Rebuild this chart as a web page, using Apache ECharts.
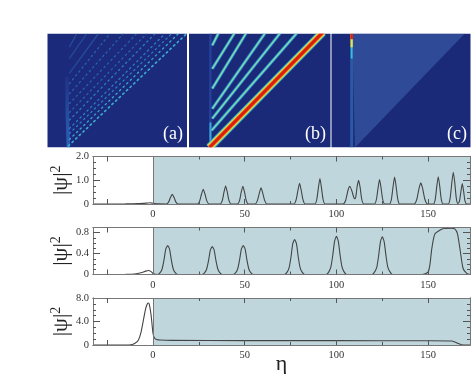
<!DOCTYPE html>
<html><head><meta charset="utf-8">
<style>html,body{margin:0;padding:0;background:#fff}#c{width:472px;height:374px;filter:blur(0.35px)}</style>
<script src="https://cdn.jsdelivr.net/npm/echarts@6/dist/echarts.min.js"></script>
</head><body><div id="c"></div>
<script>
// ---- spatial range shared by all panels
const etaMin = -32.7, etaMax = 172.8;

// ---- line panels: eta positions and |psi|^2 values
const eta1 = [-32.7,-15,-8,-3,-1.5,0,3,7.3,8.5,9.5,10.5,11.5,12.5,13.7,24.2,25.4,26.4,27.4,28.4,29.4,30.6,36.6,37.8,38.7,39.6,40.5,41.4,42.6,46,47.2,48.1,49,49.9,50.8,52,55.7,56.9,57.9,58.9,59.9,60.9,62.1,76.9,78,79,79.9,80.8,81.8,82.9,88.2,89.3,90.2,91,91.8,92.7,93.8,103.5,105,106.3,107.3,108.4,109.5,110,110.6,111.3,112.1,112.9,113.8,114.9,120.7,121.8,122.7,123.5,124.3,125.2,126.3,129,130,130.9,131.7,132.5,133.4,134.4,142.4,143.8,145,146,147,148.2,149.6,152.9,153.9,154.7,155.5,156.3,157.1,158.1,161,162,162.9,163.7,164.5,165.3,166.2,167,167.9,168.6,169.3,170,171,172.8];
const psi1 = [0,.005,.015,.04,.05,.03,.005,0,.08,.27,.41,.27,.08,0,0,.12,.4,.62,.4,.12,0,0,.15,.5,.76,.5,.15,0,0,.15,.5,.75,.5,.15,0,0,.14,.44,.68,.44,.14,0,0,.17,.57,.87,.57,.17,0,0,.2,.7,1.07,.7,.2,0,0,.15,.58,.75,.55,.27,.22,.32,.75,1,.7,.2,0,0,.2,.68,1.03,.68,.2,0,0,.22,.75,1.14,.75,.22,0,0,.2,.65,.89,.65,.2,0,0,.22,.75,1.15,.75,.22,0,0,.26,.9,1.34,.9,.26,.02,.1,.55,.86,.55,.15,0,0];
const eta2 = [-32.7,-15,-10,-6,-4,-2.5,-1,0,2.5,4,5,6,7,8,9,10,11,12,13.5,26.8,28.3,29.3,30.3,31.3,32.3,33.3,34.3,35.3,36.3,37.8,43.7,45.2,46.2,47.2,48.2,49.2,50.2,51.2,52.2,53.2,54.7,71.7,73.2,74.2,75.2,76.2,77.2,78.2,79.2,80.2,81.2,82.7,94.5,96,97,98,99,100,101,102,103,104,105.5,119.5,121,122,123,124,125,126,127,128,129,130.5,145,148,150,151,152,153.7,158,162.8,164.5,166,167.5,169,171,172.8];
const psi2 = [0,.002,.01,.04,.065,.077,.055,.02,0,.04,.11,.28,.49,.555,.49,.28,.11,.04,0,0,.04,.11,.27,.47,.536,.47,.27,.11,.04,0,0,.04,.11,.28,.49,.555,.49,.28,.11,.04,0,0,.05,.13,.33,.59,.67,.59,.33,.13,.05,0,0,.06,.15,.37,.64,.73,.64,.37,.15,.06,0,0,.06,.14,.36,.63,.72,.63,.36,.14,.06,0,0,.01,.05,.2,.5,.78,.875,.885,.875,.78,.45,.12,.02,0,0];
const eta3 = [-32.7,-15,-12,-10,-8,-6.5,-5,-4,-3,-2.5,-2,-1,0,.8,2,4,10,50,100,150,163,166,168,172.8];
const psi3 = [0,0,.05,.25,.8,2.2,4.6,6.2,7.05,7.14,6.9,5,2,1.2,.95,.85,.78,.75,.74,.72,.68,.3,.05,0];

// ---- tick values
const xLabelTicks = [0,50,100,150];
const xMajorTicks = [-25,50,100,150];
const xMinorTicks = [25,75,125];
const yMax = [2, 0.9, 8];
const yLabels = [[0,1,2],[0,.4,.8],[0,4,8]];
const yMajor = [[1],[.4,.8],[4]];
const yMinor = [[.25,.5,.75,1.25,1.5,1.75],[.1,.2,.3,.5,.6,.7],[1,2,3,5,6,7]];
const yFmt = v=>v===0?'0':v.toFixed(1);

// ---- density panels: trajectories [eta0, t0, eta1, t1]
const raysA = [[-.5,88,10.5,100],[-.5,78,25.2,100],[-.5,65,42.4,100],[-.5,56,59.6,100],[-.5,47,79.2,100],[-.5,38.5,98.9,100],[-.5,30.7,113.6,100],[-.5,24,126,100],[-.5,16.6,140.6,100],[-.5,12.3,150.4,100],[-.5,7,160.3,100],[-1.8,1.5,172.5,100]];
const raysB = [[1.1,89.6,9.85,100],[1.1,69,33.1,100],[1.1,51.7,50,100],[1.1,34,77.5,100],[1.1,25.4,99.3,100],[.2,15,123.5,100]];
const mainB = [[-3,0],[161.5,101]];
const wakeB = [[-1.5,100],[-1.8,30],[-1.5,8]];
const triC = [[-1.9,100],[2,0],[164.4,100]];
const plumeC = [[[-2.9,0],[-2.9,100]],[[-2.9,78],[-2.9,100]],[[-2.9,88],[-2.9,100]],[[-2.9,95],[-2.9,100]]];
const plumeColors = ['#2b5aa4','#35c0e0','#f0e040','#e02010'];
const plumeWidths = [3,1.8,2.2,2.6];

const grids = [
 {left:47.5,top:33.5,width:139.5,height:114,show:true,backgroundColor:'#1b2a7a',borderWidth:0},
 {left:189,top:33.5,width:141.5,height:114,show:true,backgroundColor:'#1b2a78',borderWidth:0},
 {left:331.5,top:33.5,width:139,height:114,show:true,backgroundColor:'#1b2a78',borderWidth:0},
 {left:93,top:156.5,width:377,height:47.5},
 {left:93,top:227.5,width:377,height:47},
 {left:93,top:298,width:377,height:47}
].map(g=>Object.assign(g,{outerBoundsMode:'none'}));
const frame = {lineStyle:{color:'#777',width:1}};
const xAxes=[], yAxes=[], series=[];
for(let g=0;g<3;g++){
  xAxes.push({gridIndex:g,type:'value',min:etaMin,max:etaMax,show:false});
  yAxes.push({gridIndex:g,type:'value',min:0,max:100,show:false});
}
function lineS(g,data,color,width,extra){
  series.push(Object.assign({type:'line',xAxisIndex:g,yAxisIndex:g,data,symbol:'none',silent:true,animation:false,
    lineStyle:{color,width}},extra||{}));
}
// panel (a)
const fade={type:'linear',x:0,y:0,x2:0,y2:1,colorStops:[{offset:0,color:'#1f3184'},{offset:1,color:'#2c64b8'}]};
lineS(0,[[-4,62],[-3.5,30],[-2,0]],fade,3.5);
raysA.forEach((r,i)=>{
  const d=[[r[0],r[1]],[r[2],r[3]]];
  const col=i>9?'#3aa8d0':(i>6?'#2b7cc8':(i>2?'#2860b2':'#254c9c'));
  lineS(0,d,col,i===11?1.7:1.3,i<3?{}:{lineStyle:{color:col,width:i===11?1.7:1.3,type:[1.5,3.5],cap:'round'}});
});
// panel (b)
lineS(1,wakeB,'#24409a',2.5);
lineS(1,[[-1.6,3],[-1.5,22]],'#3ca8dc',2);
raysB.forEach(r=>{
  const d=[[r[0],r[1]],[r[2],r[3]]];
  lineS(1,d,'#2a70c4',3.2); lineS(1,d,'#45c8d8',2); lineS(1,d,'#bfe06a',.7);
});
[['#2a80cc',8.5],['#50d0b0',7.5],['#f0e040',6],['#f08020',4.5],['#d81e10',3]].forEach(c=>lineS(1,mainB,c[0],c[1]));
// panel (c)
lineS(2,triC,'#2f4b97',0,{areaStyle:{color:'#2f4b97',origin:'end',opacity:1}});
plumeC.forEach((p,i)=>lineS(2,p,plumeColors[i],plumeWidths[i]));

// line panels
const etas=[eta1,eta2,eta3], psis=[psi1,psi2,psi3];
for(let k=0;k<3;k++){
  const g=k+3;
  const base=xAxes.length;
  const mkX=(pos,vals,len,extra)=>Object.assign({gridIndex:g,type:'value',position:pos,min:etaMin,max:etaMax,z:10,
    axisLine:Object.assign({show:true,onZero:false},frame),
    splitLine:{show:false},
    axisTick:{show:true,inside:true,length:len,customValues:vals,lineStyle:{color:'#555',width:1}},
    axisLabel:{show:false}},extra||{});
  xAxes.push(mkX('bottom',xMajorTicks,5,{axisLabel:{show:true,customValues:xLabelTicks,fontFamily:'Liberation Serif',fontSize:10.5,color:'#333',margin:5,formatter:v=>String(v)},
    name:k===2?'η':'',nameLocation:'middle',nameGap:8,nameMoveOverlap:false,nameTextStyle:{fontFamily:'Liberation Serif',fontSize:22,color:'#222'}}));
  xAxes.push(mkX('top',xMajorTicks,5));
  xAxes.push(mkX('bottom',xMinorTicks,3));
  xAxes.push(mkX('top',xMinorTicks,3));
  const ybase=yAxes.length;
  const mkY=(pos,vals,len,extra)=>Object.assign({gridIndex:g,type:'value',position:pos,min:0,max:yMax[k],z:10,
    axisLine:Object.assign({show:true,onZero:false},frame),
    splitLine:{show:false},
    axisTick:{show:true,inside:true,length:len,customValues:vals,lineStyle:{color:'#555',width:1}},
    axisLabel:{show:false}},extra||{});
  yAxes.push(mkY('left',yMajor[k],7,{axisLabel:{show:true,customValues:yLabels[k],formatter:yFmt,fontFamily:'Liberation Serif',fontSize:10.5,color:'#333',margin:4},
    name:'{a||ψ|}{b|2}',nameLocation:'middle',nameGap:20,nameMoveOverlap:false,nameRotate:90,
    nameTextStyle:{rich:{a:{fontFamily:'Liberation Serif',fontSize:22,color:'#222'},b:{fontFamily:'Liberation Serif',fontSize:14,color:'#222',verticalAlign:'bottom',padding:[0,0,10,0]}}}}));
  yAxes.push(mkY('right',yMajor[k],7));
  yAxes.push(mkY('left',yMinor[k],3));
  yAxes.push(mkY('right',yMinor[k],3));
  const data=etas[k].map((e,i)=>[e,psis[k][i]]);
  series.push({type:'line',xAxisIndex:base,yAxisIndex:ybase,data,symbol:'none',smooth:0.2,silent:true,animation:false,
    lineStyle:{color:'#444',width:1.1},
    markArea:{silent:true,itemStyle:{color:'#bfd7dc'},data:[[{xAxis:0},{xAxis:etaMax}]]},
    markLine:{silent:true,symbol:'none',label:{show:false},lineStyle:{color:'#777',width:1,type:'solid'},data:[{xAxis:0}]}});
}
const lab=(t,x,y)=>({type:'text',left:x,top:y,z:50,style:{text:t,fill:'#fff',font:'18px "Liberation Serif"'}});
const cover=(y,h)=>({type:'rect',shape:{x:0,y,width:472,height:h},style:{fill:'#fff'},z:40,silent:true});
const chart=echarts.init(document.getElementById('c'),null,{renderer:'canvas'});
chart.setOption({animation:false,backgroundColor:'#fff',grid:grids,xAxis:xAxes,yAxis:yAxes,series,
  graphic:[cover(0,33.5),cover(147.5,3.5),lab('(a)',163,125),lab('(b)',305,125),lab('(c)',447,125)]});
</script></body></html>
